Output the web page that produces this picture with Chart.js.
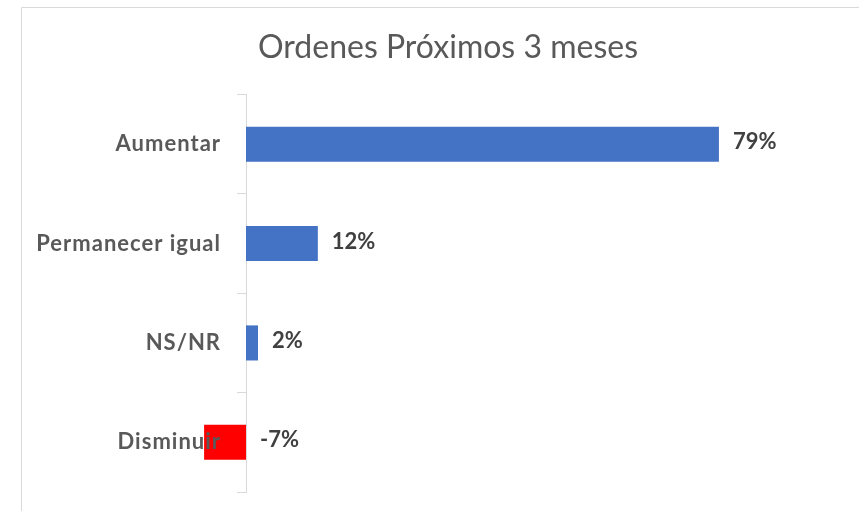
<!DOCTYPE html>
<html>
<head>
<meta charset="utf-8">
<script src="https://cdn.jsdelivr.net/npm/chart.js@4"></script>
<style>
  html, body { margin: 0; padding: 0; background: #ffffff; }
  #wrap { width: 859px; height: 511px; }
</style>
</head>
<body>
<div id="wrap"><canvas id="c" width="859" height="511"></canvas></div>
<script>
const chartTitle = 'Ordenes Próximos 3 meses';
const categories = ['Aumentar', 'Permanecer igual', 'NS/NR', 'Disminuir'];
const values = [79, 12, 2, -7];
const barColors = ['#4472C4', '#4472C4', '#4472C4', '#FF0000'];

const borderPlugin = {
  id: 'outerBorder',
  beforeDraw(chart) {
    const ctx = chart.ctx;
    ctx.save();
    ctx.fillStyle = '#ffffff';
    ctx.fillRect(0, 0, chart.width, chart.height);
    ctx.strokeStyle = '#d9d9d9';
    ctx.lineWidth = 1;
    ctx.beginPath();
    ctx.moveTo(21.5, chart.height);
    ctx.lineTo(21.5, 7.5);
    ctx.lineTo(chart.width, 7.5);
    ctx.stroke();
    ctx.restore();
  },
  afterDatasetsDraw(chart) {
    // category labels are drawn after the bars, slightly letter-spaced
    chart.ctx.letterSpacing = '1px';
  },
  afterDraw(chart) {
    chart.ctx.letterSpacing = '0px';
  }
};

const valueLabels = {
  id: 'valueLabels',
  afterDraw(chart) {
    const ctx = chart.ctx;
    const xs = chart.scales.x;
    const meta = chart.getDatasetMeta(0);
    ctx.save();
    ctx.letterSpacing = '0px';
    ctx.font = 'bold 22px Lato';
    ctx.fillStyle = '#404040';
    ctx.textAlign = 'left';
    ctx.textBaseline = 'middle';
    meta.data.forEach((bar, i) => {
      const v = values[i];
      const x = xs.getPixelForValue(Math.max(v, 0)) + 14;
      ctx.fillText(v + '%', x, bar.y - 2);
    });
    ctx.restore();
  }
};

new Chart(document.getElementById('c'), {
  type: 'bar',
  data: {
    labels: categories,
    datasets: [{
      data: values,
      backgroundColor: barColors,
      borderWidth: 0,
      categoryPercentage: 1,
      barPercentage: 0.353,
      clip: false
    }]
  },
  options: {
    indexAxis: 'y',
    responsive: false,
    animation: false,
    events: [],
    // the chart frame continues past the right edge of the picture
    layout: { padding: { left: 0, right: -37, top: 0, bottom: 19 } },
    plugins: {
      legend: { display: false },
      tooltip: { enabled: false },
      title: {
        display: true,
        text: chartTitle,
        color: '#595959',
        font: { family: 'Lato', size: 32, weight: 'normal', lineHeight: 1.2 },
        padding: { top: 28, bottom: 28.1 }
      }
    },
    scales: {
      x: {
        display: false,
        min: 0,
        max: 102.4
      },
      y: {
        position: 'left',
        afterFit(s) {
          s.width = 246;
          s.paddingTop = 0;
          s.paddingBottom = 0;
        },
        border: { display: true, color: '#d9d9d9', width: 1 },
        grid: {
          offset: true,
          drawOnChartArea: false,
          drawTicks: true,
          tickLength: 9,
          color: '#d9d9d9'
        },
        ticks: {
          z: 1,
          color: '#595959',
          padding: 16,
          font: { family: 'Lato', size: 22, weight: 'bold' }
        }
      }
    }
  },
  plugins: [borderPlugin, valueLabels]
});
</script>
</body>
</html>
